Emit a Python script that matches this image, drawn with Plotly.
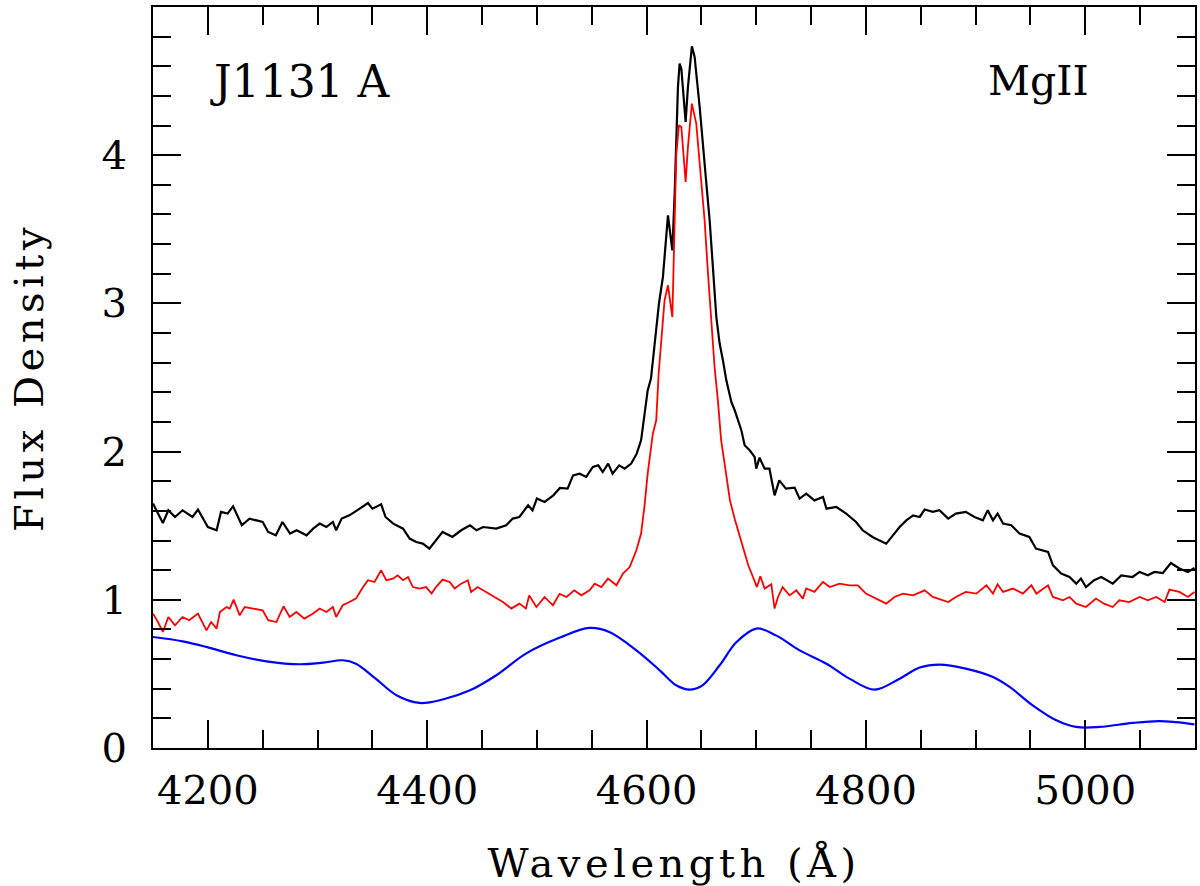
import plotly.graph_objects as go

# ---- data ----
wave_black = [4150, 4159, 4164, 4170, 4177, 4186, 4191, 4200, 4208, 4212, 4218, 4223, 4231, 4238,
              4250, 4255, 4262, 4268, 4275, 4281, 4290, 4296, 4302, 4308, 4314, 4317, 4322, 4329,
              4334, 4341, 4346, 4350, 4358, 4362, 4369, 4378, 4384, 4390, 4396, 4402, 4408, 4414,
              4423, 4431, 4439, 4445, 4451, 4463, 4472, 4478, 4484, 4492, 4496, 4500, 4507, 4515,
              4521, 4528, 4533, 4539, 4545, 4551, 4556, 4560, 4565, 4569, 4575, 4580, 4586, 4591,
              4595, 4598, 4601, 4604, 4607.3, 4609.4, 4611.3, 4614.9, 4619.5, 4623.5, 4625.6,
              4628.6, 4630.1, 4631.7, 4633.1, 4635.6, 4637.7, 4641.3, 4643.8, 4648.4, 4654.5,
              4657.5, 4663.6, 4666.6, 4669.6, 4672.7, 4677.3, 4680.3, 4686.4, 4689.4, 4694, 4698.5,
              4700, 4703, 4707.6, 4712, 4716.7, 4721, 4727, 4735, 4739.5, 4745.6, 4753, 4760.8,
              4764, 4773, 4782, 4791, 4797, 4806, 4812, 4818.5, 4824.6, 4830.7, 4836.8, 4843, 4849,
              4853.5, 4861, 4867, 4875, 4882, 4891, 4899, 4906.6, 4911, 4915.8, 4920, 4925, 4932.5,
              4940, 4949, 4955, 4966, 4970.5, 4978, 4985.6, 4991.7, 4996, 5000.6, 5008, 5014.6,
              5025, 5032.8, 5043, 5049.5, 5057, 5063, 5070.7, 5078, 5085.8, 5093.5, 5099.5]
flux_black = [1.649, 1.518, 1.604, 1.559, 1.604, 1.559, 1.609, 1.491, 1.469, 1.593, 1.582, 1.631, 1.503, 1.548,
              1.525, 1.458, 1.435, 1.525, 1.447, 1.469, 1.435, 1.480, 1.514, 1.491, 1.525, 1.469, 1.548, 1.570,
              1.593, 1.626, 1.653, 1.615, 1.644, 1.559, 1.514, 1.480, 1.413, 1.390, 1.379, 1.345, 1.401, 1.458,
              1.424, 1.469, 1.503, 1.469, 1.491, 1.480, 1.503, 1.548, 1.559, 1.638, 1.604, 1.683, 1.660, 1.705,
              1.755, 1.750, 1.840, 1.851, 1.829, 1.896, 1.907, 1.862, 1.919, 1.851, 1.907, 1.885, 1.919, 1.986,
              2.076, 2.233, 2.413, 2.493, 2.729, 2.886, 3.000, 3.178, 3.594, 3.358, 3.741,
              4.460, 4.618, 4.584, 4.460, 4.224, 4.460, 4.735, 4.663, 4.325, 3.808,
              3.561, 2.908, 2.729, 2.616, 2.481, 2.335, 2.279, 2.144, 2.043, 2.009, 1.964,
              1.885, 1.959, 1.885, 1.885, 1.705, 1.806, 1.750, 1.757, 1.683, 1.717, 1.671, 1.694,
              1.615, 1.626, 1.582, 1.525, 1.469, 1.424, 1.401, 1.379, 1.435, 1.491, 1.536, 1.570, 1.559,
              1.609, 1.593, 1.604, 1.548, 1.582, 1.593, 1.559, 1.536, 1.604, 1.536, 1.582, 1.514, 1.503,
              1.447, 1.424, 1.345, 1.323, 1.233, 1.177, 1.154, 1.109, 1.143, 1.086, 1.132, 1.154,
              1.109, 1.165, 1.154, 1.188, 1.165, 1.188, 1.181, 1.248, 1.211, 1.188, 1.215]

wave_red = [4150, 4154.5, 4159, 4164, 4170, 4177, 4183, 4191, 4198.7, 4203, 4208, 4211, 4217, 4220,
            4223.5, 4229, 4233.6, 4241, 4250, 4255, 4262.5, 4269, 4274.6, 4280.7, 4288, 4296, 4302,
            4308, 4314, 4317, 4323, 4329, 4335, 4341.5, 4346, 4352, 4358, 4362.7, 4368.8, 4373, 4378,
            4382.5, 4387, 4393, 4399, 4404, 4408, 4414, 4420.5, 4425, 4431, 4437, 4440, 4446, 4451,
            4460, 4469, 4476.7, 4484, 4490, 4493, 4499.5, 4507, 4514.6, 4520.7, 4527, 4534, 4540.5,
            4548, 4552.7, 4558.8, 4564.8, 4572.5, 4578.5, 4584.6, 4590.7, 4595, 4598, 4601, 4605.7,
            4608.8, 4611, 4614.3, 4616.4, 4619.5, 4623.5, 4627.1, 4629.5, 4631.7, 4635.6, 4637.7,
            4641.3, 4645.3, 4648.4, 4652.9, 4656, 4659, 4662, 4665, 4668, 4671.6, 4676, 4680.7,
            4686.6, 4692.7, 4697, 4700.6, 4703.7, 4707.6, 4713.7, 4716.7, 4719.8, 4724, 4730.4,
            4736.5, 4742.5, 4745.6, 4753, 4760.8, 4767, 4776, 4785, 4792.6, 4800, 4809, 4818.5,
            4826, 4833.7, 4843, 4853.5, 4861, 4875, 4882, 4891, 4900.6, 4909.8, 4915.8, 4920, 4925,
            4934, 4943, 4950.8, 4955.4, 4966, 4970.5, 4979.6, 4985.6, 4991.7, 5000.6, 5009.7, 5017,
            5025, 5031, 5040, 5049.5, 5057, 5064.6, 5072.3, 5076.7, 5085.8, 5093.5, 5099.5]
flux_red = [0.907, 0.850, 0.783, 0.884, 0.828, 0.884, 0.862, 0.907, 0.794, 0.850, 0.806, 0.918, 0.951, 0.941,
            1.001, 0.895, 0.951, 0.941, 0.929, 0.862, 0.850, 0.956, 0.884, 0.918, 0.873, 0.907, 0.941,
            0.918, 0.951, 0.884, 0.963, 0.985, 1.008, 1.086, 1.132, 1.120, 1.199, 1.132, 1.143, 1.165, 1.132,
            1.154, 1.086, 1.076, 1.086, 1.042, 1.086, 1.136, 1.120, 1.076, 1.109, 1.132, 1.053, 1.086, 1.064,
            1.019, 0.985, 0.941, 0.974, 0.941, 1.030, 0.951, 1.019, 0.963, 1.040, 1.019, 1.064, 1.030,
            1.064, 1.109, 1.086, 1.143, 1.098, 1.177, 1.221, 1.334, 1.447, 1.626, 1.851, 2.121,
            2.211, 2.526, 2.796, 3.021, 3.122, 2.908, 4.011, 4.202, 4.190, 3.819, 4.055,
            4.348, 4.213, 3.966, 3.561, 3.201, 2.908, 2.571, 2.346, 2.076, 1.896, 1.671, 1.536,
            1.379, 1.233, 1.154, 1.086, 1.159, 1.076, 1.105, 0.941, 1.019, 1.086, 1.030,
            1.064, 1.008, 1.076, 1.053, 1.120, 1.086, 1.109, 1.098, 1.098, 1.042, 1.008, 0.974,
            1.019, 1.042, 1.030, 1.064, 1.019, 0.985, 1.019, 1.053, 1.042, 1.098, 1.042, 1.105, 1.053,
            1.076, 1.042, 1.098, 1.042, 1.098, 1.019, 0.997, 1.019, 0.974, 0.951, 1.008, 0.974,
            0.951, 0.997, 0.985, 1.019, 0.997, 1.019, 0.985, 1.069, 1.053, 1.019, 1.053]

wave_blue = [4150, 4177, 4198.7, 4226, 4253.5, 4284, 4305, 4323, 4335, 4353, 4372, 4393, 4414, 4439,
             4463, 4490, 4521, 4548, 4566, 4590.7, 4612, 4627, 4639, 4651, 4666.6, 4682, 4700, 4718,
             4739.5, 4764, 4785, 4808, 4830.7, 4849, 4867, 4891, 4915.8, 4931, 4952, 4973.5, 4991.7,
             5013, 5043, 5067, 5082.5, 5099.5]
flux_blue = [0.749, 0.720, 0.682, 0.626, 0.585, 0.565, 0.576, 0.592, 0.569, 0.468, 0.356, 0.304, 0.327, 0.389,
             0.491, 0.637, 0.745, 0.810, 0.783, 0.659, 0.524, 0.423, 0.394, 0.423, 0.558, 0.715, 0.806, 0.760,
             0.659, 0.569, 0.468, 0.394, 0.468, 0.543, 0.563, 0.536, 0.479, 0.412, 0.288, 0.187, 0.142,
             0.142, 0.169, 0.182, 0.175, 0.160]

x_range = [4150, 5100]
y_range = [0, 5]
x_major = [4200, 4400, 4600, 4800, 5000]
y_major = [0, 1, 2, 3, 4]
label_object = "J1131 A"
label_line = "MgII"
x_title = "Wavelength (Å)"
y_title = "Flux Density"

FONT = "DejaVu Serif"

fig = go.Figure()
fig.add_trace(go.Scatter(x=wave_black, y=flux_black, mode="lines",
                         line=dict(color="black", width=2.2), showlegend=False))
fig.add_trace(go.Scatter(x=wave_red, y=flux_red, mode="lines",
                         line=dict(color="#ff0000", width=1.8), showlegend=False))
fig.add_trace(go.Scatter(x=wave_blue, y=flux_blue, mode="lines",
                         line=dict(color="#0000ff", width=2.2, shape="spline", smoothing=1.0),
                         showlegend=False))

axis_common = dict(
    showline=True, linecolor="black", linewidth=2, mirror="allticks",
    ticks="inside", tickcolor="black", tickwidth=2, ticklen=28,
    showgrid=False, zeroline=False,
    tickfont=dict(family=FONT, size=40, color="black"),
)

fig.update_xaxes(range=x_range, tickmode="array", tickvals=x_major,
                 minor=dict(dtick=50, tick0=4150, ticks="inside", ticklen=18, tickwidth=2,
                            tickcolor="black", showgrid=False),
                 title=dict(text=x_title, font=dict(family=FONT, size=40, color="black"), standoff=40),
                 ticklabelstandoff=6,
                 **axis_common)
fig.update_yaxes(range=y_range, tickmode="array", tickvals=y_major,
                 minor=dict(dtick=0.2, tick0=0, ticks="inside", ticklen=18, tickwidth=2,
                            tickcolor="black", showgrid=False),
                 title=dict(text=y_title, font=dict(family=FONT, size=40, color="black"), standoff=46),
                 ticklabelstandoff=16,
                 **axis_common)

fig.add_annotation(x=4200, y=4.5, xref="x", yref="y", text=label_object, showarrow=False,
                   xanchor="left", yanchor="middle",
                   font=dict(family=FONT, size=44, color="black"))
fig.add_annotation(x=5005, y=4.5, xref="x", yref="y", text=label_line, showarrow=False,
                   xanchor="right", yanchor="middle",
                   font=dict(family=FONT, size=41, color="black"))

fig.update_layout(
    width=1200, height=886,
    margin=dict(l=153, r=5, t=7, b=138, autoexpand=False),
    paper_bgcolor="white", plot_bgcolor="white",
)

post = """
document.body.style.margin = '0';
document.body.style.overflow = 'hidden';
document.querySelectorAll('.xtitle, .ytitle').forEach(function(el){ el.style.letterSpacing = '4.5px'; });
"""

fig.write_html("out.html", post_script=post, config={"displayModeBar": False})
